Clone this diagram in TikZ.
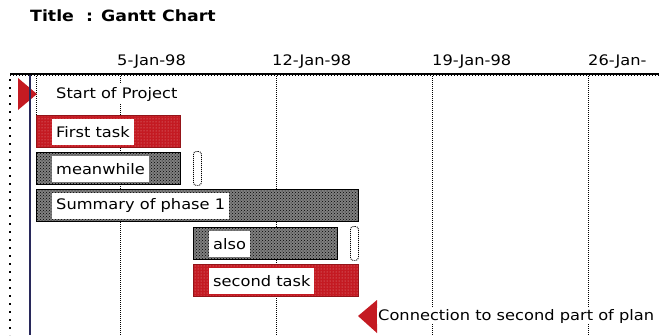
\documentclass[tikz,border=0pt]{standalone}
\usepackage{fontspec}
\setmainfont{DejaVu Sans}[FakeStretch=1.12]
\usetikzlibrary{positioning, calc, patterns}
\definecolor{barRed}{RGB}{196, 26, 34}
\definecolor{lineNavy}{RGB}{40, 40, 90}

\begin{document}
\begin{tikzpicture}[x=1pt, y=-1pt,
          every node/.style={font=\fontsize{14.5}{17}\selectfont},
          bar/.style={anchor=north west, minimum height=32pt, inner sep=0pt, line width=1.2pt},
          graybar/.style={bar, draw=black, preaction={fill=black!50},
                          pattern=crosshatch dots, pattern color=black},
          redbar/.style={bar, draw=barRed!75!black, preaction={fill=barRed},
                         pattern=dots, pattern color=white!55!barRed},
          tag/.style={fill=white, inner xsep=4pt, inner ysep=0pt, minimum height=26pt},
          slack/.style={draw, anchor=north west, dash pattern=on 1pt off 1pt, line width=0.9pt,
                        rounded corners=3pt, minimum width=8pt, minimum height=34pt, inner sep=0pt},
          grid/.style={dash pattern=on 1pt off 1pt, line width=0.9pt},
          date/.style={anchor=south west, inner sep=0pt},
          milestone/.style={fill=barRed}
        ]
        \useasboundingbox (0,0) rectangle (659,335);

        \node[anchor=north west, inner sep=0pt, font=\fontsize{15.5}{18}\selectfont\bfseries]
              (title) at (30,10) {Title\ \ : Gantt Chart};

        % time scale
        \coordinate (axL) at (10,74);
        \coordinate (axR) at (659,74);
        \node[date] (d1) at (117,69) {5-Jan-98};
        \node[date] (d2) at (272,69) {12-Jan-98};
        \node[date] (d3) at (432,69) {19-Jan-98};
        \node[date] (d4) at (588,69) {26-Jan-};

        % weekly grid, behind the bars
        \draw[grid] (120,76) -- (120,335);
        \draw[grid] (276,76) -- (276,335);
        \draw[grid] (432,76) -- (432,335);
        \draw[grid] (588,76) -- (588,335);
        \draw[grid] (36,76) -- (36,115);
        \draw[line width=1.5pt, dash pattern=on 2pt off 6pt] (10,79) -- (10,335);

        \draw[line width=1.2pt] (axL) -- (axR);
        \draw[line width=1.2pt, dash pattern=on 1pt off 2pt] ($(axL)+(0,1.8)$) -- ($(axR)+(0,1.8)$);

        % start milestone
        \fill[milestone] (18,78) -- (37,94) -- (18,110) -- cycle;
        \draw[lineNavy, line width=1.5pt] (30,75) -- (30,335);
        \node[anchor=west, fill=white, inner sep=3pt] (start) at (53,94) {Start of Project};

        % tasks
        \node[redbar, minimum width=144pt] (first) at (36,115) {};
        \node[tag, right=16pt of first.west] (tfirst) {First task};

        \node[graybar, minimum width=144pt] (mean) at (36,152) {};
        \node[tag, right=16pt of mean.west] (tmean) {meanwhile};
        \node[slack] (slack1) at (193,151) {};

        \node[graybar, minimum width=322pt] (phase) at (36,189) {};
        \node[tag, right=16pt of phase.west] (tphase) {Summary of phase 1};

        \node[graybar, minimum width=144pt] (also) at (193,227) {};
        \node[tag, right=16pt of also.west] (talso) {also};
        \node[slack] (slack2) at (350,226) {};

        \node[redbar, minimum width=165pt] (second) at (193,264) {};
        \node[tag, right=16pt of second.west] (tsecond) {second task};

        % connection milestone
        \fill[milestone] (358,316) -- (377,300) -- (377,333) -- cycle;
        \node[anchor=west, fill=white, inner sep=1pt] (conn) at (377,316)
              {Connection to second part of plan};
      \end{tikzpicture}
\end{document}
